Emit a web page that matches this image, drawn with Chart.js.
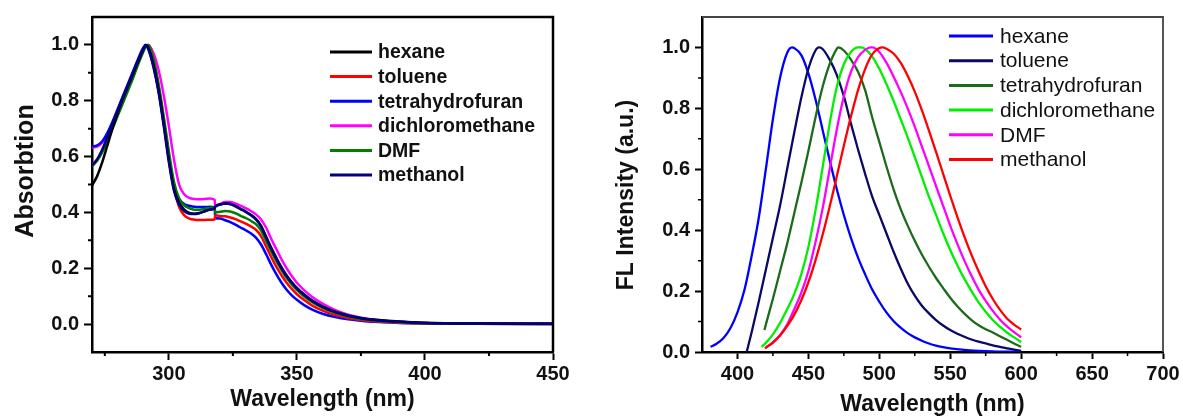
<!DOCTYPE html>
<html><head><meta charset="utf-8">
<script src="https://cdn.jsdelivr.net/npm/chart.js@4.4.1/dist/chart.umd.min.js"></script>
<style>
html,body{margin:0;padding:0;background:#fff;width:1183px;height:417px;overflow:hidden;}
#c1{position:absolute;left:0;top:0;}
#c2{position:absolute;left:590px;top:0;}
</style></head><body>
<canvas id="c1" width="590" height="417"></canvas>
<canvas id="c2" width="593" height="417"></canvas>
<script>
// ---------- Absorption (left panel) ----------
const absWavelength = [270,272,274,276,278,280,282,284,286,288,290,291,292,294,296,298,300,302,304,306,308,310,312,314,316,317.9,318.1,320,322,324,326,328,330,332,334,336,338,340,342,344,346,348,350,353,356,360,365,370,375,380,390,400,420,450];
const absHexane = [0.496,0.53,0.58,0.64,0.70,0.755,0.805,0.85,0.895,0.94,0.982,1.0,0.99,0.93,0.84,0.72,0.59,0.485,0.435,0.41,0.398,0.395,0.398,0.404,0.41,0.415,0.42,0.428,0.432,0.43,0.423,0.413,0.403,0.392,0.377,0.352,0.313,0.273,0.237,0.203,0.174,0.15,0.13,0.105,0.084,0.063,0.044,0.031,0.022,0.016,0.009,0.005,0.002,0.001];
const absToluene = [0.57,0.59,0.62,0.66,0.705,0.75,0.795,0.84,0.885,0.935,0.978,0.995,1.0,0.945,0.85,0.73,0.6,0.49,0.42,0.39,0.378,0.374,0.373,0.373,0.374,0.375,0.39,0.387,0.386,0.382,0.376,0.368,0.36,0.35,0.338,0.315,0.278,0.24,0.205,0.175,0.148,0.126,0.107,0.085,0.066,0.048,0.032,0.022,0.015,0.01,0.005,0.002,0.001,0.0];
const absTHF = [0.636,0.64,0.655,0.685,0.725,0.77,0.815,0.86,0.905,0.95,0.99,1.0,0.985,0.925,0.835,0.72,0.6,0.5,0.45,0.43,0.424,0.42,0.419,0.419,0.42,0.418,0.38,0.378,0.372,0.365,0.356,0.346,0.336,0.325,0.31,0.285,0.25,0.212,0.178,0.148,0.123,0.103,0.087,0.067,0.052,0.037,0.025,0.017,0.012,0.008,0.004,0.002,0.001,0.0];
const absDCM = [0.632,0.636,0.65,0.68,0.72,0.765,0.81,0.855,0.9,0.945,0.985,0.997,1.0,0.97,0.91,0.82,0.71,0.59,0.5,0.465,0.452,0.448,0.447,0.448,0.45,0.445,0.425,0.43,0.437,0.437,0.432,0.424,0.415,0.405,0.393,0.375,0.345,0.305,0.268,0.232,0.2,0.172,0.148,0.12,0.097,0.073,0.05,0.034,0.023,0.016,0.008,0.004,0.002,0.001];
const absDMF = [0.565,0.585,0.615,0.655,0.7,0.745,0.79,0.835,0.88,0.93,0.975,0.995,1.0,0.95,0.86,0.745,0.62,0.51,0.45,0.425,0.415,0.41,0.41,0.413,0.416,0.418,0.4,0.402,0.405,0.403,0.397,0.388,0.38,0.37,0.358,0.335,0.298,0.26,0.225,0.193,0.165,0.142,0.122,0.098,0.078,0.058,0.04,0.027,0.018,0.013,0.007,0.003,0.001,0.0];
const absMethanol = [0.568,0.59,0.625,0.67,0.718,0.765,0.81,0.855,0.9,0.945,0.985,1.0,0.985,0.92,0.83,0.71,0.58,0.478,0.428,0.405,0.395,0.394,0.398,0.404,0.41,0.416,0.42,0.428,0.432,0.43,0.422,0.412,0.402,0.39,0.375,0.35,0.31,0.27,0.234,0.2,0.172,0.148,0.128,0.103,0.083,0.062,0.043,0.03,0.021,0.015,0.008,0.004,0.002,0.001];
const absXTicks = [300,350,400,450];
const absYTicks = [0,0.2,0.4,0.6,0.8,1.0];
const absXMinor = [275,325,375,425];
const absYMinor = [0.1,0.3,0.5,0.7,0.9];

// ---------- Fluorescence (right panel) ----------
const flHexaneX = [381,385,390,395,400,405,410,415,420,425,430,435,438.5,440,445,450,455,460,465,470,475,480,485,490,495,500,505,510,515,520,525,530,535,540,545,550,560,570,580,590,600];
const flHexaneY = [0.017,0.026,0.045,0.078,0.13,0.205,0.315,0.44,0.6,0.765,0.9,0.982,1.0,0.998,0.975,0.915,0.83,0.73,0.63,0.535,0.45,0.375,0.31,0.255,0.205,0.165,0.13,0.102,0.08,0.062,0.048,0.037,0.028,0.021,0.016,0.012,0.007,0.004,0.002,0.001,0.001];
const flTolueneX = [406.5,410,415,420,425,430,435,440,445,450,455,457.5,460,465,470,475,480,485,490,495,500,505,510,515,520,525,530,535,540,545,550,555,560,565,570,575,580,585,590,595,600];
const flTolueneY = [0.0,0.065,0.165,0.27,0.375,0.48,0.6,0.72,0.835,0.93,0.99,1.0,0.995,0.96,0.91,0.84,0.75,0.665,0.585,0.51,0.45,0.39,0.33,0.275,0.225,0.185,0.152,0.127,0.105,0.087,0.072,0.06,0.05,0.041,0.034,0.028,0.022,0.017,0.012,0.008,0.004];
const flTHFX = [419,420,425,430,435,440,445,450,455,460,465,470,471,475,480,485,490,495,500,505,510,515,520,525,530,535,540,545,550,555,560,565,570,575,580,585,590,595,600];
const flTHFY = [0.072,0.09,0.175,0.265,0.355,0.455,0.555,0.66,0.77,0.87,0.945,0.995,1.0,0.99,0.96,0.92,0.86,0.77,0.69,0.61,0.535,0.47,0.415,0.365,0.32,0.28,0.243,0.21,0.178,0.15,0.126,0.105,0.088,0.075,0.064,0.052,0.04,0.028,0.017];
const flDCMX = [417,420,425,430,435,440,445,450,455,460,465,470,475,480,485,487,490,495,500,505,510,515,520,525,530,535,540,545,550,555,560,565,570,575,580,585,590,595,600];
const flDCMY = [0.017,0.03,0.058,0.095,0.14,0.19,0.255,0.345,0.465,0.605,0.75,0.87,0.945,0.985,1.0,1.0,0.995,0.97,0.93,0.88,0.825,0.765,0.705,0.64,0.575,0.51,0.45,0.39,0.335,0.285,0.24,0.2,0.163,0.132,0.105,0.083,0.064,0.048,0.033];
const flDMFX = [420,425,430,435,440,445,450,455,460,465,470,475,480,485,490,494,495,500,505,510,515,520,525,530,535,540,545,550,555,560,565,570,575,580,585,590,595,600];
const flDMFY = [0.015,0.03,0.055,0.09,0.14,0.195,0.265,0.36,0.47,0.6,0.73,0.84,0.92,0.968,0.992,1.0,1.0,0.985,0.95,0.905,0.855,0.8,0.74,0.675,0.61,0.545,0.48,0.415,0.355,0.3,0.25,0.205,0.168,0.135,0.107,0.084,0.065,0.048];
const flMethanolX = [419.4,425,430,435,440,445,450,455,460,465,470,475,480,485,490,495,500,502,505,510,515,520,525,530,535,540,545,550,555,560,565,570,575,580,585,590,595,600];
const flMethanolY = [0.012,0.032,0.054,0.085,0.122,0.17,0.229,0.301,0.384,0.477,0.576,0.677,0.773,0.86,0.929,0.977,0.998,1.0,0.996,0.98,0.95,0.907,0.855,0.794,0.727,0.657,0.585,0.513,0.444,0.379,0.319,0.265,0.216,0.174,0.139,0.11,0.09,0.074];
const flXTicks = [400,450,500,550,600,650,700];
const flYTicks = [0,0.2,0.4,0.6,0.8,1.0];
const flXMinor = [425,475,525,575,625,675];
const flYMinor = [0.1,0.3,0.5,0.7,0.9];

const FONT = "'Liberation Sans', Arial, sans-serif";
Chart.defaults.font.family = FONT;

function pairs(xs, ys){ return xs.map((x,i)=>({x:x, y:ys[i]})); }

const decorPlugin = {
  id: 'decor',
  afterDraw(chart, args, o) {
    const {ctx, chartArea: a, scales: {x, y}} = chart;
    ctx.save();
    // frame (top & right)
    ctx.strokeStyle = o.frameColor; ctx.lineWidth = o.frameWidth;
    ctx.beginPath();
    ctx.moveTo(a.left, a.top); ctx.lineTo(a.right, a.top); ctx.lineTo(a.right, a.bottom);
    ctx.stroke();
    // minor ticks
    ctx.strokeStyle = '#000'; ctx.lineWidth = o.minorWidth;
    ctx.beginPath();
    o.xMinor.forEach(v => { const px = x.getPixelForValue(v); ctx.moveTo(px, a.bottom); ctx.lineTo(px, a.bottom + o.minorLen); });
    o.yMinor.forEach(v => { const py = y.getPixelForValue(v); ctx.moveTo(a.left, py); ctx.lineTo(a.left - o.minorLen, py); });
    ctx.stroke();
    // y-axis title
    ctx.save();
    ctx.translate(o.yTitleX, o.yTitleY);
    ctx.rotate(-Math.PI / 2);
    ctx.font = o.yTitleFont;
    ctx.fillStyle = '#111';
    ctx.textAlign = 'center';
    ctx.textBaseline = 'middle';
    ctx.fillText(o.yTitle, 0, 0);
    ctx.restore();
    // legend
    ctx.font = o.legendFont;
    ctx.textBaseline = 'middle';
    ctx.textAlign = 'left';
    o.legendOrder.forEach((di, i) => {
      const ds = chart.data.datasets[di];
      const yy = o.legendTop + i * o.legendStep;
      ctx.strokeStyle = ds.borderColor; ctx.lineWidth = 3;
      ctx.beginPath(); ctx.moveTo(o.legendX1, yy); ctx.lineTo(o.legendX2, yy); ctx.stroke();
      ctx.fillStyle = '#111';
      ctx.fillText(ds.label, o.legendTextX, yy + 1);
    });
    ctx.restore();
  }
};

function lineDs(label, xs, ys, color, width, order){
  return {label, data: pairs(xs, ys), borderColor: color, backgroundColor: color,
    borderWidth: width, pointRadius: 0, cubicInterpolationMode: 'monotone', fill: false, order};
}

function axisCfg(min, max, ticks, fmt, fitKey, fitVal, title, titlePad, tickLen, tickPad){
  return {
    type: 'linear', min, max,
    afterBuildTicks: s => { s.ticks = ticks.map(v => ({value: v})); },
    afterFit: s => { s[fitKey] = fitVal; },
    grid: {drawOnChartArea: false, drawTicks: true, tickLength: tickLen, tickWidth: 2, tickColor: '#000'},
    border: {display: true, color: '#000', width: 2.5},
    ticks: {autoSkip: false, maxRotation: 0, padding: tickPad, color: '#111',
      font: {family: FONT, size: 20, weight: 'bold'}, callback: fmt},
    title: {display: !!title, text: title || '', color: '#111',
      font: {family: FONT, size: 23, weight: 'bold', lineHeight: 1}, padding: titlePad}
  };
}

const absLabels = ['hexane','toluene','tetrahydrofuran','dichloromethane','DMF','methanol'];
new Chart(document.getElementById('c1'), {
  type: 'line',
  data: { datasets: [
    lineDs(absLabels[0], absWavelength, absHexane, '#000000', 2.5, 1),
    lineDs(absLabels[1], absWavelength, absToluene, '#ff0000', 2.5, 4),
    lineDs(absLabels[2], absWavelength, absTHF, '#0000ff', 2.5, 5),
    lineDs(absLabels[3], absWavelength, absDCM, '#ff00ff', 2.5, 6),
    lineDs(absLabels[4], absWavelength, absDMF, '#008000', 2.5, 3),
    lineDs(absLabels[5], absWavelength, absMethanol, '#000080', 2.5, 0)
  ]},
  options: {
    responsive: false, animation: false, devicePixelRatio: 1,
    layout: {padding: {top: 16, right: 37, left: 0, bottom: 0}},
    plugins: {legend: {display: false}, tooltip: {enabled: false},
      decor: {frameColor: '#000', frameWidth: 2.5, minorLen: 4, minorWidth: 2,
        xMinor: absXMinor, yMinor: absYMinor,
        yTitle: 'Absorbtion', yTitleX: 26, yTitleY: 171, yTitleFont: "bold 25px " + FONT,
        legendOrder: [0,1,2,3,4,5], legendTop: 52, legendStep: 24.6,
        legendX1: 330, legendX2: 372, legendTextX: 378,
        legendFont: "bold 19.5px " + FONT}},
    scales: {
      x: axisCfg(270, 450, absXTicks, v => String(v), 'height', 65, 'Wavelength (nm)', {top: 0, bottom: 6}, 8, 2),
      y: axisCfg(-0.1, 1.1, absYTicks, v => Number(v).toFixed(1), 'width', 92, null, 0, 8, 5)
    }
  },
  plugins: [decorPlugin]
});

const flLabels = ['hexane','toluene','tetrahydrofuran','dichloromethane','DMF','methanol'];
new Chart(document.getElementById('c2'), {
  type: 'line',
  data: { datasets: [
    lineDs(flLabels[0], flHexaneX, flHexaneY, '#0000ff', 2.3, 5),
    lineDs(flLabels[1], flTolueneX, flTolueneY, '#0a0a66', 2.3, 4),
    lineDs(flLabels[2], flTHFX, flTHFY, '#1b6b1b', 2.3, 3),
    lineDs(flLabels[3], flDCMX, flDCMY, '#00ee00', 2.3, 2),
    lineDs(flLabels[4], flDMFX, flDMFY, '#ff00ff', 2.3, 1),
    lineDs(flLabels[5], flMethanolX, flMethanolY, '#ff0000', 2.3, 0)
  ]},
  options: {
    responsive: false, animation: false, devicePixelRatio: 1,
    layout: {padding: {top: 15, right: 20, left: 0, bottom: 0}},
    plugins: {legend: {display: false}, tooltip: {enabled: false},
      decor: {frameColor: '#444', frameWidth: 1.8, minorLen: 4, minorWidth: 1.5,
        xMinor: flXMinor, yMinor: flYMinor,
        yTitle: 'FL Intensity (a.u.)', yTitleX: 37, yTitleY: 195, yTitleFont: "bold 23px " + FONT,
        legendOrder: [0,1,2,3,4,5], legendTop: 36, legendStep: 24.7,
        legendX1: 359, legendX2: 403, legendTextX: 410,
        legendFont: "21px " + FONT}},
    scales: {
      x: axisCfg(375, 700, flXTicks, v => String(v), 'height', 65, 'Wavelength (nm)', {top: 0, bottom: 1}, 7, 3),
      y: axisCfg(0, 1.1, flYTicks, v => Number(v).toFixed(1), 'width', 112, null, 0, 7, 5)
    }
  },
  plugins: [decorPlugin]
});
</script>
</body></html>
